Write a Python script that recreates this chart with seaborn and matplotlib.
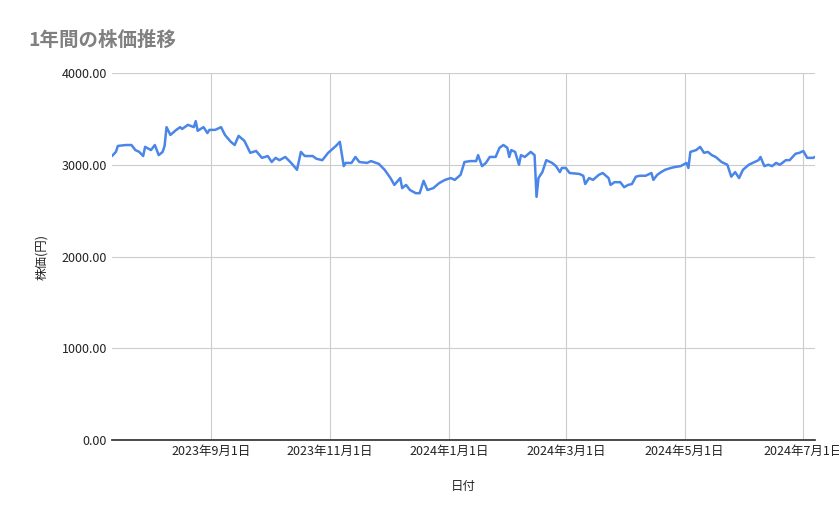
import pandas as pd
import numpy as np
import matplotlib.pyplot as plt
import seaborn as sns

# 開始日からの経過日数と株価
start = "2023-07-12"
days = [0,2,3,7,10,12,14,16,17,20,22,24,26,27,28,30,33,35,36,39,42,43,44,47,49,50,53,56,58,61,63,65,68,71,74,77,80,82,84,86,89,92,95,97,99,103,105,108,111,115,117,119,120,123,125,127,131,133,137,140,143,145,148,149,151,153,156,158,160,162,165,168,171,174,176,179,181,184,187,188,190,192,194,197,199,201,203,204,205,207,209,210,212,215,217,218,219,221,223,226,228,230,231,233,235,240,242,243,245,247,250,252,255,256,258,261,263,265,267,269,271,274,277,278,280,282,284,287,289,292,295,296,297,300,302,304,306,308,310,313,316,318,320,322,324,327,330,332,333,335,337,339,341,343,346,348,351,353,355,357,360,361]
price = [3095,3140,3205,3215,3215,3160,3140,3095,3195,3160,3215,3105,3140,3205,3410,3325,3380,3410,3390,3435,3410,3475,3370,3410,3345,3380,3380,3410,3325,3250,3215,3315,3260,3130,3150,3075,3095,3030,3075,3050,3085,3020,2945,3140,3095,3095,3065,3050,3130,3205,3250,2985,3020,3020,3085,3030,3020,3040,3010,2945,2855,2780,2855,2745,2780,2725,2690,2690,2825,2725,2745,2800,2835,2855,2835,2890,3030,3040,3040,3105,2985,3020,3085,3085,3185,3215,3185,3085,3160,3140,3000,3105,3085,3140,3105,2650,2855,2920,3050,3020,2985,2920,2965,2965,2910,2900,2880,2790,2855,2835,2890,2910,2855,2780,2810,2810,2755,2780,2790,2870,2880,2880,2910,2835,2890,2920,2945,2965,2975,2985,3020,2965,3140,3160,3195,3130,3140,3105,3085,3030,3000,2870,2920,2855,2945,3000,3030,3050,3085,2985,3000,2985,3020,3000,3050,3050,3120,3130,3150,3075,3075,3085]

df = pd.DataFrame({"日付": pd.Timestamp(start) + pd.to_timedelta(days, unit="D"), "株価": price})

sns.set_theme(style="white")
plt.rcParams['font.family'] = ['Noto Sans CJK JP', 'DejaVu Sans']

fig = plt.figure(figsize=(8.39, 5.19), dpi=100)
ax = fig.add_axes([112/839, 1-440/519, 703/839, 367/519])
sns.lineplot(data=df, x="日付", y="株価", color="#4a86e8", linewidth=1.8, ax=ax)

ax.set_xlim(df["日付"].iloc[0], df["日付"].iloc[-1])
ax.set_ylim(0, 4000)
ax.set_yticks([0, 1000, 2000, 3000, 4000])
ax.set_yticklabels([f"{v:.2f}" for v in [0, 1000, 2000, 3000, 4000]], fontsize=9, color="#222222")
ticks = pd.to_datetime(["2023-09-01", "2023-11-01", "2024-01-01", "2024-03-01", "2024-05-01", "2024-07-01"])
ax.set_xticks(ticks)
ax.set_xticklabels([f"{d.year}年{d.month}月{d.day}日" for d in ticks], fontsize=9, color="#222222")
ax.grid(True, color="#cccccc", linewidth=0.8)
for s in ["top", "right", "left"]:
    ax.spines[s].set_visible(False)
ax.spines["bottom"].set_color("#333333")
ax.tick_params(length=0)
ax.set_xlabel("日付", fontsize=9, labelpad=16)
ax.set_ylabel("株価(円)", fontsize=9, labelpad=10)
fig.text(28/839, 1-40/519, "1年間の株価推移", fontsize=14, color="#808080", fontweight="bold", va="center")

fig.savefig("out.png", dpi=100)
